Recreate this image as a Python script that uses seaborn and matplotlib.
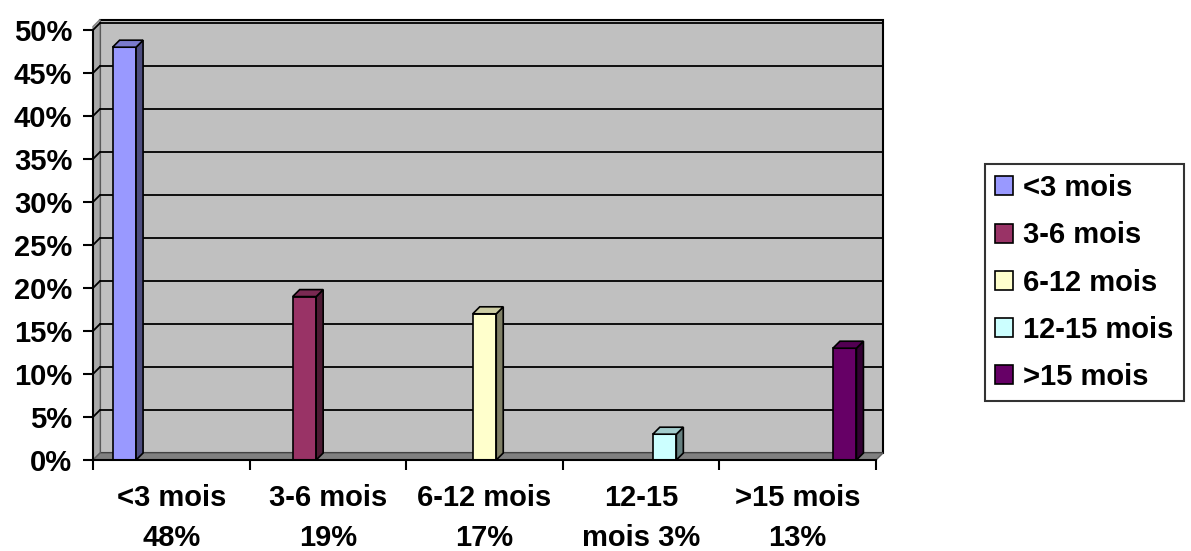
import pandas as pd
import matplotlib.pyplot as plt
import seaborn as sns
from matplotlib.patches import Polygon, Patch

# ---- Data ----
categories = ["<3 mois", "3-6 mois", "6-12 mois", "12-15 mois", ">15 mois"]
tick_labels = ["<3 mois\n48%", "3-6 mois\n19%", "6-12 mois\n17%", "12-15\nmois 3%", ">15 mois\n13%"]
values = [0.48, 0.19, 0.17, 0.03, 0.13]
colors = ["#9999FF", "#993366", "#FFFFCC", "#CCFFFF", "#660066"]
side_colors = ["#4D4D80", "#4D1A33", "#808066", "#668080", "#330033"]
top_colors = ["#7A7ACC", "#7A2952", "#CCCCA3", "#A3CCCC", "#520052"]
yticks = [0, 0.05, 0.10, 0.15, 0.20, 0.25, 0.30, 0.35, 0.40, 0.45, 0.50]

df = pd.DataFrame({"cat": categories, "serie": categories, "val": values})

# ---- Style ----
sns.set_style("white")
plt.rcParams["font.family"] = ["Liberation Sans", "DejaVu Sans"]
plt.rcParams["font.weight"] = "bold"
plt.rcParams["text.color"] = "black"
plt.rcParams["xtick.color"] = "black"
plt.rcParams["ytick.color"] = "black"

fig = plt.figure(figsize=(11.91, 5.51), dpi=100)
ax = fig.add_axes([93 / 1191, 91 / 551, 783 / 1191, 430 / 551])

sns.barplot(data=df, x="cat", y="val", hue="serie", order=categories,
            hue_order=categories, palette=colors, saturation=1, dodge=True, width=0.75,
            edgecolor="black", linewidth=1.2, legend=False, ax=ax, zorder=3)

ax.set_xlim(-0.5, 4.5)
ax.set_ylim(0, 0.5)

# depth of the 3D look, in data units (about 7 px)
dx = 7 * 5 / 783
dy = 7 * 0.5 / 430

# back wall, left wall, floor
ax.add_patch(Polygon([(-0.5 + dx, dy), (4.5 + dx, dy), (4.5 + dx, 0.5 + dy + 0.004), (-0.5 + dx, 0.5 + dy + 0.004)],
                     facecolor="#C0C0C0", edgecolor="black", lw=1.5, zorder=0.5, clip_on=False))
ax.add_patch(Polygon([(-0.5, 0), (-0.5 + dx, dy), (-0.5 + dx, 0.5 + dy + 0.004), (-0.5, 0.504)],
                     facecolor="#A8A8A8", edgecolor="#808080", lw=1, zorder=0.6, clip_on=False))
ax.add_patch(Polygon([(-0.5, 0), (4.5, 0), (4.5 + dx, dy), (-0.5 + dx, dy)],
                     facecolor="#808080", edgecolor="#606060", lw=1, zorder=0.7, clip_on=False))

# gridlines on the back wall
for v in yticks[1:]:
    ax.plot([-0.5 + dx, 4.5 + dx], [v + dy, v + dy], color="black", lw=1.3, zorder=1, clip_on=False)
    ax.plot([-0.5, -0.5 + dx], [v, v + dy], color="black", lw=1.3, zorder=1, clip_on=False)

# 3D sides of each bar (one container per hue level)
for k, cont in enumerate(ax.containers):
    for p in cont:
        x, w, h = p.get_x(), p.get_width(), p.get_height()
        if not h or h <= 0:
            continue
        ax.add_patch(Polygon([(x + w, 0), (x + w + dx, dy), (x + w + dx, h + dy), (x + w, h)],
                             facecolor=side_colors[k], edgecolor="black", lw=1.2, zorder=3, clip_on=False))
        ax.add_patch(Polygon([(x, h), (x + w, h), (x + w + dx, h + dy), (x + dx, h + dy)],
                             facecolor=top_colors[k], edgecolor="black", lw=1.2, zorder=3, clip_on=False))

# axes, ticks
for s in ["top", "right"]:
    ax.spines[s].set_visible(False)
ax.spines["left"].set_color("black")
ax.spines["left"].set_linewidth(1.5)
ax.spines["bottom"].set_color("black")
ax.spines["bottom"].set_linewidth(1.5)
ax.spines["left"].set_zorder(5)
ax.spines["bottom"].set_zorder(5)

ax.set_yticks(yticks)
ax.set_yticklabels([f"{int(round(v * 100))}%" for v in yticks], fontsize=21, fontweight="bold", color="black")
ax.tick_params(axis="y", direction="out", length=7, width=1.5, color="black", left=True, pad=8)

ax.set_xticks(range(len(categories)))
ax.set_xticklabels(tick_labels, fontsize=21, fontweight="bold", linespacing=1.55, color="black")
ax.set_xticks([i - 0.5 for i in range(len(categories) + 1)], minor=True)
ax.tick_params(axis="x", which="major", length=0, pad=17)
ax.tick_params(axis="x", which="minor", direction="out", length=7, width=1.5, color="black", bottom=True)
ax.set_xlabel("")
ax.set_ylabel("")

# legend
handles = [Patch(facecolor=c, edgecolor="black", linewidth=1.2, label=l) for c, l in zip(colors, categories)]
leg = fig.legend(handles=handles, loc="upper left", bbox_to_anchor=(985 / 1191, 1 - 164 / 551),
                 frameon=True, fancybox=False, edgecolor="black", prop={"size": 21, "weight": "bold"},
                 handlelength=0.62, handleheight=0.62, handletextpad=0.35, labelspacing=0.66,
                 borderpad=0.35, borderaxespad=0)
leg.get_frame().set_linewidth(1.5)
for t in leg.get_texts():
    t.set_color("black")

fig.savefig("out.png", dpi=100)
